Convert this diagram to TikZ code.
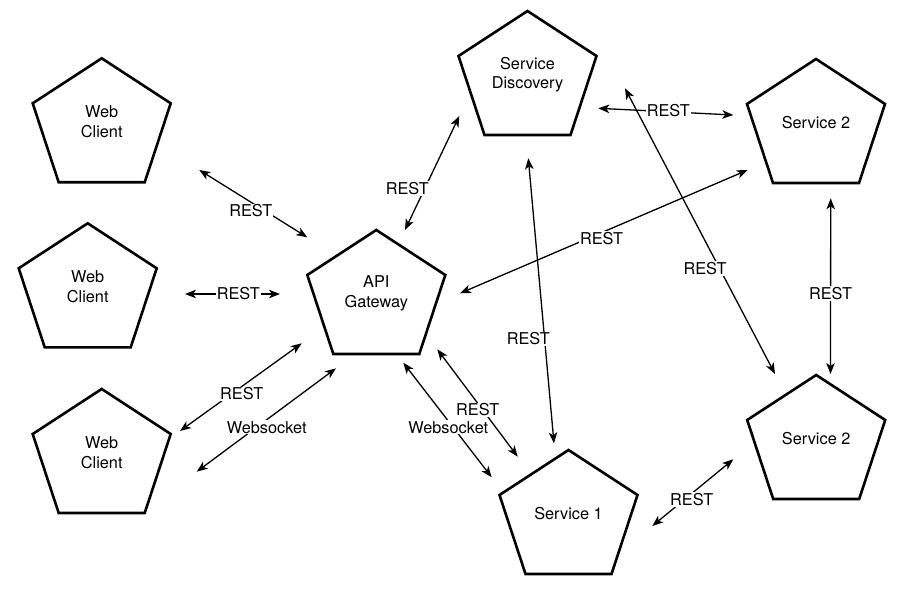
\documentclass[tikz,border=0pt]{standalone}
\usepackage{fontspec}
\setmainfont{TeX Gyre Heros}
\usetikzlibrary{arrows.meta}
\newcommand\pentagonat[4]{%
  \draw[pentshape] (#2,#3) -- ++(69,45) -- ++(-26,79) -- ++(-86,0) -- ++(-26,-79) -- cycle;
  \node[ptext] (#1) at (#2,#3+63.5) {#4};
}
\begin{document}
\begin{tikzpicture}[x=1pt,y=-1pt,
  pentshape/.style={line width=2.6pt, line join=miter},
  conn/.style={line width=1.3pt, {Stealth[length=11pt,width=8.5pt,inset=3pt]}-{Stealth[length=11pt,width=8.5pt,inset=3pt]}},
  lbl/.style={fill=white, inner sep=1pt, font=\fontsize{16.3}{19.5}\selectfont},
  ptext/.style={align=center, font=\fontsize{16.3}{19.5}\selectfont}]
\fill[white] (0,0) rectangle (900,599);
\useasboundingbox (0,0) rectangle (900,599);

% pentagons
\pentagonat{wc1}{101.7}{58.3}{Web\\Client}
\pentagonat{wc2}{87.7}{223.3}{Web\\Client}
\pentagonat{wc3}{101.7}{389}{Web\\Client}
\pentagonat{api}{376.3}{230}{API\\Gateway}
\pentagonat{sd}{527.5}{11}{Service\\Discovery}
\pentagonat{s2a}{816}{59}{Service 2}
\pentagonat{s2b}{816.2}{375}{Service 2}
\pentagonat{s1}{568.5}{450}{Service 1}

% connector end points
\coordinate (c1a) at (199.3,170);   \coordinate (c1b) at (307.3,237.3);
\coordinate (c2a) at (185,294);     \coordinate (c2b) at (280,294);
\coordinate (c3a) at (180,431);     \coordinate (c3b) at (301.7,343.3);
\coordinate (c4a) at (196.7,471.7); \coordinate (c4b) at (336,368.3);
\coordinate (c5a) at (405,230);     \coordinate (c5b) at (459.3,116);
\coordinate (c6a) at (460,293.3);   \coordinate (c6b) at (747.7,170);
\coordinate (c7a) at (528.3,158.3); \coordinate (c7b) at (554,443.3);
\coordinate (c8a) at (598.3,108.3); \coordinate (c8b) at (733.3,115);
\coordinate (c9a) at (625,88.3);    \coordinate (c9b) at (775,374);
\coordinate (c10a) at (830.7,198.3);\coordinate (c10b) at (830.5,374);
\coordinate (c11a) at (437.3,349.3);\coordinate (c11b) at (517.7,456.7);
\coordinate (c12a) at (403.3,362.7);\coordinate (c12b) at (491.7,477.3);
\coordinate (c13a) at (652.3,526);  \coordinate (c13b) at (733.3,459.3);

% connectors
\foreach \i in {1,...,13} {\draw[conn] (c\i a) -- (c\i b);}

% labels
\node[lbl] (l1) at (250.8,211) {REST};
\node[lbl] (l2) at (238.3,294) {REST};
\node[lbl] (l3) at (241.7,394) {REST};
\node[lbl] (l4) at (266.7,427.3) {Websocket};
\node[lbl] (l5) at (407.3,188.3) {REST};
\node[lbl] (l6) at (601.5,238.3) {REST};
\node[lbl] (l7) at (528.3,339) {REST};
\node[lbl] (l8) at (668.3,110.7) {REST};
\node[lbl] (l9) at (705,268.3) {REST};
\node[lbl] (l10) at (830.5,293.3) {REST};
\node[lbl] (l11) at (477.7,410) {REST};
\node[lbl] (l12) at (448.3,427.3) {Websocket};
\node[lbl] (l13) at (691.7,499.3) {REST};
\end{tikzpicture}
\end{document}
